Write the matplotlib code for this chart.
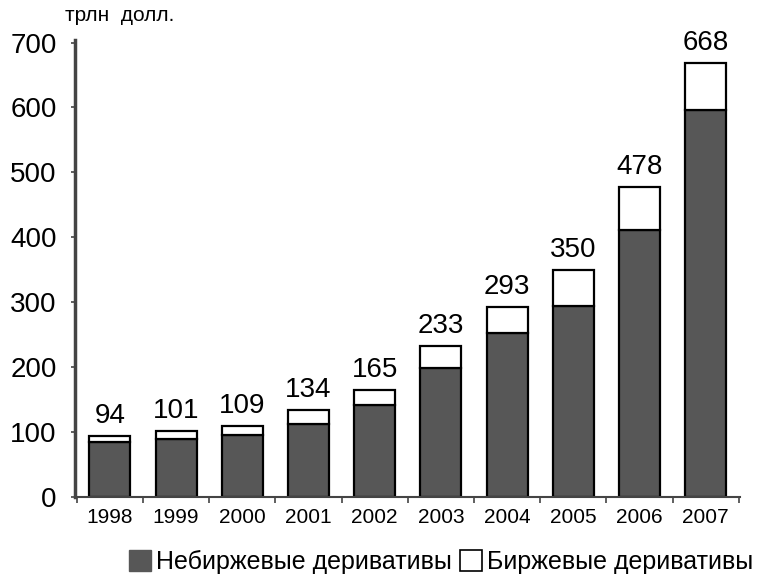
import matplotlib.pyplot as plt
from matplotlib.patches import Patch

years = ['1998', '1999', '2000', '2001', '2002', '2003', '2004', '2005', '2006', '2007']
totals = [94, 101, 109, 134, 165, 233, 293, 350, 478, 668]
otc = [85, 89, 95, 113, 142, 199, 252, 294, 412, 596]
exchange = [t - o for t, o in zip(totals, otc)]

plt.rcParams['font.family'] = ['Liberation Sans', 'DejaVu Sans']

fig = plt.figure(figsize=(7.63, 5.81), dpi=100)
ax = fig.add_axes([0.098, 0.1446, 0.872, 0.7866])

x = range(len(years))
dark = '#575757'
ax.bar(x, otc, width=0.62, color=dark, edgecolor='black', linewidth=1.6)
ax.bar(x, exchange, bottom=otc, width=0.62, color='white', edgecolor='black', linewidth=1.6)

for i, t in enumerate(totals):
    ax.annotate(str(t), (i, t), xytext=(0, 5), textcoords='offset points',
                ha='center', va='bottom', fontsize=20)

ax.set_xlim(-0.53, 9.52)
ax.set_ylim(0, 704)
ax.set_yticks(range(0, 701, 100))
ax.tick_params(axis='y', labelsize=20, length=3, width=1.2, color='#444444', pad=10)
ax.set_xticks(x)
ax.set_xticklabels(years, fontsize=15)
ax.tick_params(axis='x', length=0, pad=8)
ax.set_xticks([i + 0.5 for i in range(-1, 10)], minor=True)
ax.tick_params(axis='x', which='minor', length=4, width=1.2, color='#444444')

for s in ['top', 'right']:
    ax.spines[s].set_visible(False)
ax.spines['left'].set_linewidth(2.5)
ax.spines['left'].set_color('#444444')
ax.spines['bottom'].set_linewidth(1.5)
ax.spines['bottom'].set_color('#444444')

fig.text(0.085, 0.99, 'трлн  долл.', fontsize=15, ha='left', va='top')

handles = [Patch(facecolor=dark, edgecolor=dark),
           Patch(facecolor='white', edgecolor='black', linewidth=1.2)]
fig.legend(handles, ['Небиржевые деривативы', 'Биржевые деривативы'],
           loc='center', bbox_to_anchor=(0.578, 0.032), ncol=2, frameon=False,
           fontsize=18, handlelength=0.9, handleheight=0.9, handletextpad=0.2,
           columnspacing=0.3)

fig.savefig('out.png', dpi=100)
